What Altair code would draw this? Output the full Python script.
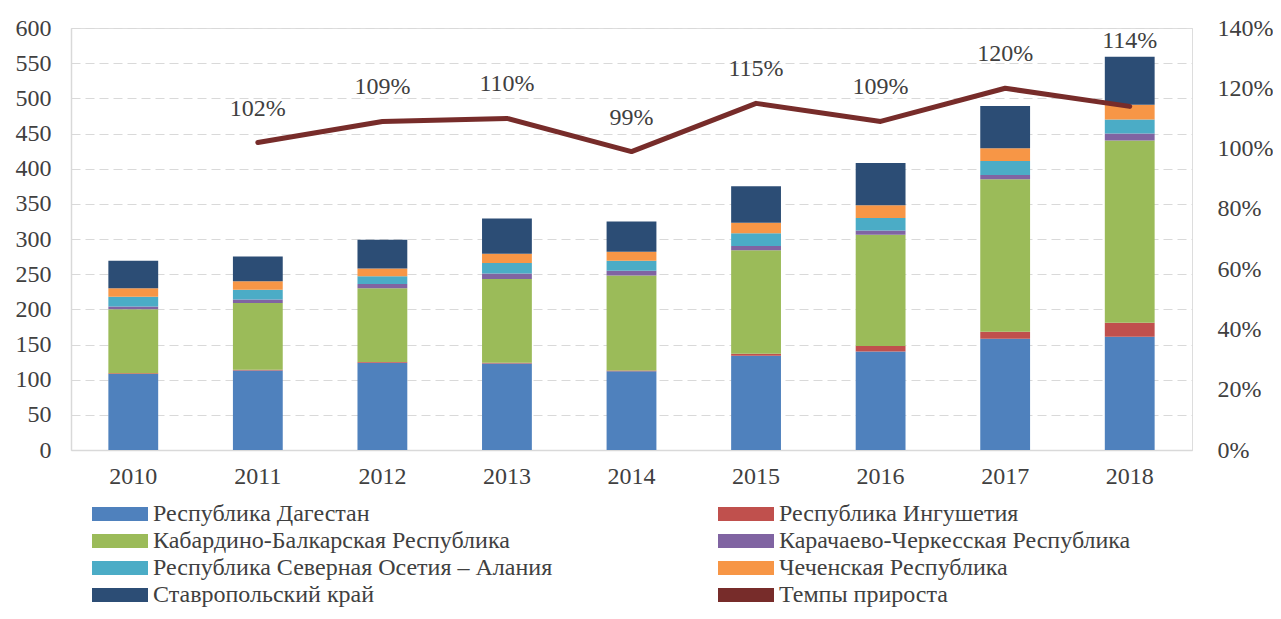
import altair as alt
import pandas as pd

years = ["2010", "2011", "2012", "2013", "2014", "2015", "2016", "2017", "2018"]

region_names = [
    "Республика Дагестан",
    "Республика Ингушетия",
    "Кабардино-Балкарская Республика",
    "Карачаево-Черкесская Республика",
    "Республика Северная Осетия – Алания",
    "Чеченская Республика",
    "Ставропольский край",
]
growth_name = "Темпы прироста"

dagestan = [108, 113, 124, 123, 112, 134, 140, 158, 161]
ingushetia = [1, 1, 1, 1, 1, 3, 8, 10, 20]
kbr = [91, 95, 105, 119, 135, 147, 158, 217, 259]
kchr = [4, 5, 6, 8, 7, 6, 6, 6, 10]
osetia = [14, 14, 11, 15, 14, 18, 18, 20, 20]
chechnya = [12, 12, 11, 13, 13, 15, 18, 18, 21]
stavropol = [39, 35, 41, 50, 43, 52, 60, 60, 68]

growth_years = ["2011", "2012", "2013", "2014", "2015", "2016", "2017", "2018"]
growth_pct = [102, 109, 110, 99, 115, 109, 120, 114]

colors = ["#4f81bd", "#c0504d", "#9bbb59", "#8064a2", "#4bacc6", "#f79646", "#2c4d75", "#772c2a"]

series_values = [dagestan, ingushetia, kbr, kchr, osetia, chechnya, stavropol]
rows = []
for si, (name, vals) in enumerate(zip(region_names, series_values)):
    for yr, v in zip(years, vals):
        rows.append({"year": yr, "region": name, "value": v, "order": si})
bars_df = pd.DataFrame(rows)

line_df = pd.DataFrame({
    "year": growth_years,
    "pct": [g / 100 for g in growth_pct],
    "label": [f"{g}%" for g in growth_pct],
    "series": [growth_name] * len(growth_years),
})

FONT = "Liberation Serif"
TXT = "#404040"

x_enc = alt.X(
    "year:N", sort=years,
    scale=alt.Scale(paddingInner=0.6, paddingOuter=0.3),
    axis=alt.Axis(title=None, labelAngle=0, labelFontSize=24, labelFont=FONT,
                  labelColor=TXT, ticks=False, domainColor="#d9d9d9",
                  domainWidth=1.5, labelPadding=14, grid=False),
)

legend_names = region_names + [growth_name]

rect_path = "M-4,-1L4,-1L4,1L-4,1Z"

bars = alt.Chart(bars_df).mark_bar().encode(
    x=x_enc,
    y=alt.Y(
        "value:Q", stack="zero",
        scale=alt.Scale(domain=[0, 600], nice=False),
        axis=alt.Axis(values=list(range(0, 601, 50)), title=None, ticks=False,
                      grid=True, gridDash=[9, 5], gridColor="#d9d9d9",
                      domainColor="#d9d9d9", domainWidth=1.5,
                      labelFontSize=24, labelFont=FONT, labelColor=TXT,
                      labelPadding=20),
    ),
    color=alt.Color(
        "region:N",
        scale=alt.Scale(domain=legend_names, range=colors),
        legend=alt.Legend(
            title=None, orient="none", legendX=37, legendY=474, columns=2,
            direction="horizontal",
            symbolType=rect_path, symbolSize=196, symbolStrokeWidth=0,
            symbolOpacity=1, labelOffset=21, labelFontSize=24, labelFont=FONT,
            labelColor=TXT, labelLimit=800, columnPadding=165, rowPadding=3,
        ),
    ),
    order=alt.Order("order:Q"),
)

y_right = alt.Y(
    "pct:Q",
    scale=alt.Scale(domain=[0, 1.4], nice=False),
    axis=alt.Axis(orient="right", format=".0%", values=[i / 5 for i in range(8)],
                  title=None, grid=False, domain=False, ticks=False,
                  labelFontSize=24, labelFont=FONT, labelColor=TXT,
                  labelPadding=25),
)

line = alt.Chart(line_df).mark_line(strokeWidth=5, strokeCap="round", strokeJoin="round").encode(
    x=alt.X("year:N", sort=years),
    y=y_right,
    color=alt.Color("series:N", legend=None),
)

labels_main = alt.Chart(line_df).transform_filter(
    alt.datum.year != "2018"
).mark_text(font=FONT, fontSize=24, color=TXT, dy=-34, baseline="middle").encode(
    x=alt.X("year:N", sort=years),
    y=alt.Y("pct:Q"),
    text="label:N",
)

labels_last = alt.Chart(line_df).transform_filter(
    alt.datum.year == "2018"
).mark_text(font=FONT, fontSize=24, color=TXT, dy=-65, baseline="middle").encode(
    x=alt.X("year:N", sort=years),
    y=alt.Y("pct:Q"),
    text="label:N",
)

right_layer = alt.layer(line, labels_main, labels_last)

chart = alt.layer(bars, right_layer).resolve_scale(y="independent").properties(
    width=1121, height=422,
    padding={"left": 63, "top": 20, "right": 81, "bottom": 161},
    autosize=alt.AutoSizeParams(type="none"),
).configure_view(stroke=None).configure(background="white")

chart.save("out.html", embed_options={"renderer": "svg", "actions": False})
